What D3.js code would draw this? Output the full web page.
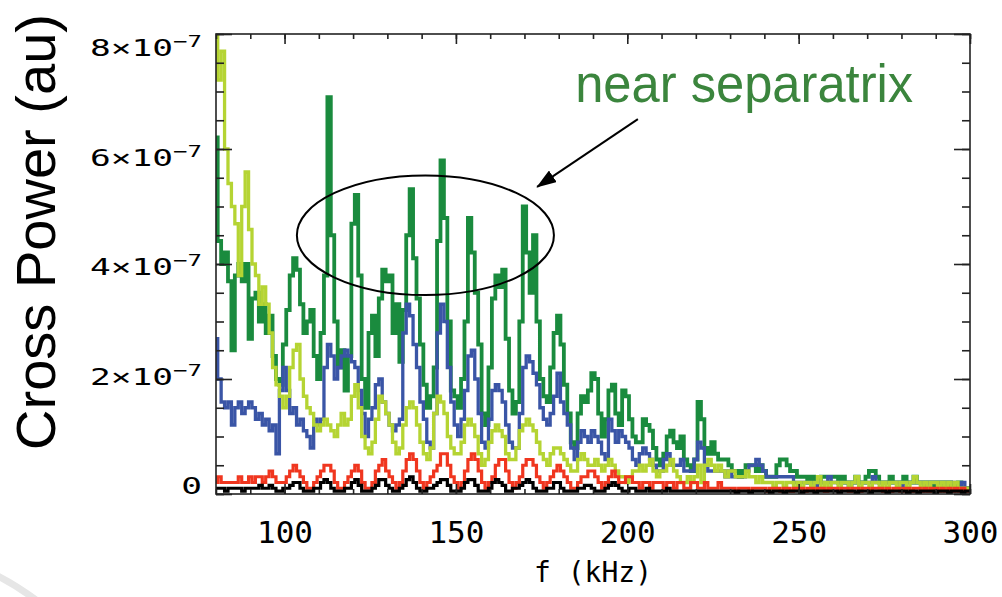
<!DOCTYPE html>
<html>
<head>
<meta charset="utf-8">
<script src="https://cdn.jsdelivr.net/npm/d3@7"></script>
<style>
  body { margin: 0; background: #fff; }
  svg { display: block; }
</style>
</head>
<body>
<figure id="crossPower" style="margin:0"></figure>
<script>
// cross power spectra, in units of 1e-8 (au)
// one value per kHz, from 80 kHz to 300 kHz
var freqStart = 80, freqEnd = 300;

var green = [
62,44,40,42,37,25,38,40,37,40,
27,34,35,30,33,28,31,24,20,19,
26,32,38,41,39,33,28,30,32,24,
20,28,38,69,45,30,22,25,18,24,
47,52,38,20,15,28,31,24,34,39,
37,38,28,33,23,32,45,53,41,34,
26,19,15,17,22,44,58,48,30,18,
17,15,20,30,48,42,35,26,14,12,
22,34,38,36,39,27,18,14,16,30,
50,42,35,45,30,20,17,16,22,28,
31,26,19,14,9,8,14,17,16,18,
21,20,14,10,13,18,19,14,12,18,
17,13,10,9,9,13,12,11,8,6,
5,7,10,11,9,8,10,6,5,4,
6,16,13,8,7,9,7,6,6,6,
5,4,4,3,4,5,5,5,4,5,
4,3,3,3,5,6,6,5,4,4,
3,3,3,2,3,2,2,3,3,3,
3,3,2,3,2,2,2,3,2,2,
3,4,4,3,2,2,2,3,2,2,
2,3,2,2,3,2,2,2,2,2,
1,2,2,1,2,1,1,2,1,1,
1];

var blue = [
27,20,16,15,16,12,15,16,14,15,
16,15,13,14,12,13,11,12,7,18,
22,18,14,15,12,13,11,10,8,13,
12,13,22,26,24,20,22,24,25,24,
23,22,18,14,10,13,15,19,20,16,
14,12,11,12,13,28,33,31,26,22,
16,13,9,8,14,28,33,30,22,16,
12,10,13,18,24,25,20,14,9,8,
13,18,19,18,16,12,9,8,8,14,
22,24,23,21,19,15,13,12,14,17,
21,16,14,12,8,6,9,11,10,9,
11,10,9,7,6,13,11,9,11,10,
9,8,6,5,7,8,7,6,5,4,
4,6,7,5,5,5,6,4,4,4,
6,9,8,5,4,4,4,4,4,3,
4,3,3,3,3,4,5,5,6,5,
4,3,3,3,3,3,3,3,3,2,
2,2,2,2,2,1,2,2,2,3,
2,2,2,2,2,1,2,2,2,2,
2,2,3,2,2,2,2,2,2,2,
1,2,2,2,2,2,2,1,2,2,
2,2,2,1,2,2,1,1,2,1,
1];

var lime = [
80,72,77,60,54,50,47,38,50,56,
46,40,38,33,36,33,28,22,19,17,
15,17,22,25,26,20,17,15,14,12,
11,12,13,12,11,10,12,14,12,13,
17,19,15,10,8,7,9,13,17,16,
14,12,9,7,8,12,15,16,15,12,
9,7,6,8,14,17,16,14,10,8,
7,7,9,12,13,12,10,7,5,6,
9,11,12,11,10,7,6,6,8,11,
12,13,12,11,9,7,6,5,7,8,
8,7,6,5,4,4,6,7,6,5,
5,6,5,4,5,6,5,4,3,3,
2,3,4,4,5,4,5,6,4,3,
4,4,5,6,4,3,2,2,3,2,
3,5,2,5,6,5,4,5,4,3,
4,4,3,3,3,4,3,3,2,3,
2,2,2,1,2,2,1,2,2,1,
2,1,2,2,1,2,3,1,2,1,
2,2,1,2,2,1,2,3,1,2,
2,1,2,2,1,2,1,2,2,1,
2,2,1,2,3,2,1,2,1,2,
2,1,2,1,2,1,2,1,1,1,
1];

var red = [
2,3,2,2,2,2,2,3,2,2,
3,2,3,3,2,3,4,3,2,2,
2,3,4,5,4,3,2,1,1,2,
3,4,5,5,4,2,1,1,2,3,
4,5,4,2,1,1,2,4,5,6,
4,3,2,1,2,4,6,7,6,4,
2,1,2,3,4,5,7,7,5,3,
2,1,2,4,6,7,6,4,2,1,
2,3,5,6,6,4,2,1,2,3,
5,6,6,5,3,2,1,2,3,4,
5,4,3,2,1,1,2,3,3,4,
4,3,2,1,2,3,4,3,2,2,
3,3,2,2,1,2,2,1,2,2,
2,1,2,2,1,2,2,1,1,2,
2,1,1,2,1,1,1,2,1,1,
1,1,0.5,1,1,1,0.5,1,1,1,
1,0.5,1,1,1,0.5,1,1,0.5,1,
1,1,0.5,1,1,0.5,1,1,0.5,1,
1,1,0.5,1,1,0.5,1,1,0.5,1,
1,0.5,1,1,1,0.5,1,0.5,1,1,
0.5,1,1,0.5,1,1,0.5,1,0.5,1,
1,0.5,1,0.5,1,0.5,1,0.5,1,0.5,
0.5];

var black = [
1,1,1,0.5,1,1,1,1,0.5,1,
1,1,1,1.5,1,1,1.5,1,0.5,0.5,
1,1,1.5,2,2,1,0.5,0.5,0.5,1,
1,2,2.5,2,1,0.5,0.5,0.5,1,1,
2,2.5,1.5,0.5,0.5,0.5,1,1.5,2.5,2.5,
1.5,1,0.5,0.5,1,1.5,2.5,3,2,1,
0.5,0.5,1,1,1.5,2,2.5,2.5,1.5,0.5,
0.5,0.5,1,2,2.5,2.5,1.5,0.5,0.5,0.5,
1,2,2.5,2,1.5,0.5,0.5,1,1,1.5,
2,2.5,2,1,0.5,0.5,0.5,1,1,2,
2,1,0.5,0.5,0.5,0.5,1,1,1.5,1.5,
1,0.5,0.5,0.5,1,1.5,2,1.5,1,0.5,
0.5,1,1,0.5,0.5,0.5,1,0.5,0.5,0.5,
0.5,0.5,1,0.5,0.5,0.5,0.5,0.5,0.5,0.5,
0.5,0.5,0.5,0.5,0.5,0.5,0.5,0.5,0.5,0.5,
0.5,0.5,0.3,0.5,0.5,0.5,0.3,0.5,0.5,0.5,
0.5,0.5,0.3,0.5,0.5,0.5,0.3,0.5,0.5,0.5,
0.5,0.3,0.5,0.5,0.5,0.3,0.5,0.5,0.5,0.5,
0.5,0.5,0.3,0.5,0.5,0.5,0.5,0.3,0.5,0.5,
0.5,0.3,0.5,0.5,0.5,0.5,0.3,0.5,0.5,0.5,
0.5,0.5,0.3,0.5,0.5,0.3,0.5,0.5,0.5,0.5,
0.3,0.5,0.5,0.5,0.3,0.5,0.5,0.5,0.3,0.5,
0.5];

// drawing order: first is at the bottom
var seriesNames = ["green", "blue", "lime", "red", "black"];
var seriesColors = ["#1a8b3e", "#3a55a6", "#b5d433", "#f0361f", "#000000"];
var seriesWidths = [3.8, 3.3, 3.3, 3.2, 3.2];
var seriesValues = [green, blue, lime, red, black];

var xMajor = [100, 150, 200, 250, 300];
var yMajor = [0, 2e-7, 4e-7, 6e-7, 8e-7];

// the ellipse and arrow in data units (kHz, au)
var ring = {f: 141.1, p: 4.5e-7, rf: 37.5, rp: 1.04e-7};
var arrow = {f0: 203.1, p0: 6.52e-7, f1: 173.7, p1: 5.34e-7};
var note = {f: 184.8, p: 6.82e-7, text: "near separatrix"};

function crossPower() {

    // set the dimensions and margins of the graph
    var margin = {top: 34, right: 32, bottom: 103, left: 216},
    width = 1002 - margin.left - margin.right,
    height = 597 - margin.top - margin.bottom;

    var root = d3.select("figure#crossPower")
        .append("svg")
        .attr("width", 1002)
        .attr("height", 597);

    // faint slide decoration in the bottom left corner
    root.append("path")
        .attr("d", "M-6,574 Q18,586 40,603")
        .attr("fill", "none")
        .attr("stroke", "#e6e6e6")
        .attr("stroke-width", 7);

    var svg = root.append("g")
        .attr("transform", "translate(" + margin.left + "," + margin.top + ")");

    var x = d3.scaleLinear().domain([freqStart, freqEnd]).range([0, width]);
    var y = d3.scaleLinear().domain([0, 8e-7]).range([height, 0]);
    // the tick labels sit a little off the ticks in the picture
    var labelY = d3.scaleLinear().domain([0, 8e-7]).range([452, 14]);

    svg.append("clipPath").attr("id", "plotClip")
        .append("rect")
        .attr("width", width).attr("height", height);

    // lines, drawn as steps like the original spectra
    var line = d3.line()
        .x(function(d) { return x(d.f); })
        .y(function(d) { return y(d.v); })
        .curve(d3.curveStep);

    var plot = svg.append("g").attr("clip-path", "url(#plotClip)");
    seriesValues.forEach(function(vals, i) {
        var pts = vals.map(function(v, j) { return {f: freqStart + j, v: v * 1e-8}; });
        plot.append("path")
            .datum(pts)
            .attr("class", "series " + seriesNames[i])
            .attr("fill", "none")
            .attr("stroke", seriesColors[i])
            .attr("stroke-width", seriesWidths[i])
            .attr("stroke-linejoin", "miter")
            .attr("d", line);
    });

    // frame
    svg.append("rect")
        .attr("width", width).attr("height", height)
        .attr("fill", "none")
        .attr("stroke", "#222")
        .attr("stroke-width", 1.6);

    // ticks point inwards on all four sides
    var xMinor = d3.range(freqStart, freqEnd + 1, 10);
    var yMinor = d3.range(0, 8.01e-7, 0.5e-7);

    function tickGroup(axis, tx, ty) {
        var g = svg.append("g")
            .attr("transform", "translate(" + tx + "," + ty + ")")
            .call(axis);
        g.select(".domain").remove();
        g.selectAll(".tick line").attr("stroke", "#222").attr("stroke-width", 1.6);
        return g;
    }

    tickGroup(d3.axisBottom(x).tickValues(xMinor).tickSize(-5).tickFormat(""), 0, height);
    tickGroup(d3.axisTop(x).tickValues(xMinor).tickSize(-5).tickFormat(""), 0, 0);
    tickGroup(d3.axisTop(x).tickValues(xMajor).tickSize(-10).tickFormat(""), 0, 0);
    tickGroup(d3.axisLeft(y).tickValues(yMinor).tickSize(-8).tickFormat(""), 0, 0);
    tickGroup(d3.axisLeft(y).tickValues(yMajor).tickSize(-16).tickFormat(""), 0, 0);
    tickGroup(d3.axisRight(y).tickValues(yMinor).tickSize(-8).tickFormat(""), width, 0);
    tickGroup(d3.axisRight(y).tickValues(yMajor).tickSize(-16).tickFormat(""), width, 0);

    var xAxis = tickGroup(d3.axisBottom(x).tickValues(xMajor).tickSize(-10).tickPadding(27)
        .tickFormat(d3.format("d")), 0, height);
    xAxis.selectAll("text")
        .attr("fill", "#000")
        .style("font-family", "'DejaVu Sans Mono', monospace")
        .style("font-size", "31px");

    // y tick labels, stretched sideways like the picture
    var yLab = svg.selectAll(".ylab")
        .data(yMajor)
        .enter()
        .append("text")
        .attr("class", "ylab")
        .attr("transform", function(d) {
            return "translate(-14," + labelY(d) + ") scale(1.5,1)";
        })
        .attr("text-anchor", "end")
        .attr("dy", "0.36em")
        .style("font-family", "'DejaVu Sans Mono', monospace")
        .style("font-size", "23px")
        .attr("fill", "#000");
    yLab.append("tspan")
        .text(function(d) { return d === 0 ? "0" : Math.round(d / 1e-7) + "×10"; });
    yLab.filter(function(d) { return d !== 0; })
        .append("tspan")
        .attr("dy", "-0.55em")
        .style("font-size", "16px")
        .text("−7");

    // axis titles
    svg.append("text")
        .attr("x", width / 2)
        .attr("y", height + 88)
        .attr("text-anchor", "middle")
        .style("font-family", "'DejaVu Sans Mono', monospace")
        .style("font-size", "28px")
        .text("f (kHz)");

    root.append("text")
        .attr("transform", "translate(55,232) rotate(-90)")
        .attr("text-anchor", "middle")
        .attr("textLength", 436)
        .attr("lengthAdjust", "spacingAndGlyphs")
        .style("font-family", "'Liberation Sans', Arial, sans-serif")
        .style("font-size", "56px")
        .text("Cross Power (au)");

    // annotation
    svg.append("ellipse")
        .attr("cx", x(ring.f))
        .attr("cy", y(ring.p))
        .attr("rx", x(freqStart + ring.rf) - x(freqStart))
        .attr("ry", y(0) - y(ring.rp))
        .attr("fill", "none")
        .attr("stroke", "#000")
        .attr("stroke-width", 2);

    root.append("defs").append("marker")
        .attr("id", "head")
        .attr("viewBox", "0 0 20 14")
        .attr("refX", 19).attr("refY", 7)
        .attr("markerWidth", 20).attr("markerHeight", 14)
        .attr("markerUnits", "userSpaceOnUse")
        .attr("orient", "auto")
        .append("path")
        .attr("d", "M0,0 L20,7 L0,14 Z")
        .attr("fill", "#000");

    svg.append("line")
        .attr("x1", x(arrow.f0)).attr("y1", y(arrow.p0))
        .attr("x2", x(arrow.f1)).attr("y2", y(arrow.p1))
        .attr("stroke", "#000")
        .attr("stroke-width", 2)
        .attr("marker-end", "url(#head)");

    svg.append("text")
        .attr("x", x(note.f))
        .attr("y", y(note.p))
        .attr("textLength", 338)
        .attr("lengthAdjust", "spacingAndGlyphs")
        .style("font-family", "'Liberation Sans', Arial, sans-serif")
        .style("font-size", "54px")
        .attr("fill", "#3b853d")
        .text(note.text);
}

crossPower();
</script>
</body>
</html>
